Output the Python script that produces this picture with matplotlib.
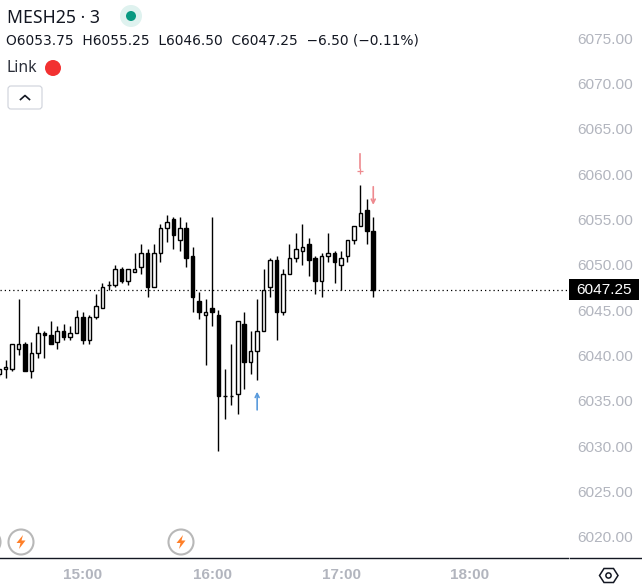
# ==================== #
# === LOAD PACKAGE === #
# ==================== #
import matplotlib
matplotlib.use("Agg")
import matplotlib.pyplot as plt
import numpy as np
from matplotlib.patches import Circle, FancyBboxPatch, Polygon, Rectangle

# ==================== #
# ======= DATA ======= #
# ==================== #
# 3 minute bars, minutes since midnight of the last bar = 17:15
BAR_MINUTES = 3
LAST_BAR = 1035
opens = [6038.0, 6038.5, 6038.5, 6040.75, 6041.25, 6038.25, 6040.25, 6042.5, 6042.25, 6041.5,
         6042.75, 6042.0, 6042.5, 6044.25, 6041.75, 6044.25, 6045.25, 6047.75, 6047.75, 6049.5,
         6048.25, 6049.25, 6049.75, 6051.25, 6047.5, 6051.25, 6054.0, 6055.0, 6052.75, 6054.0,
         6051.0, 6046.0, 6044.5, 6045.25, 6044.5, 6035.5, 6035.5, 6035.75, 6043.5, 6039.25,
         6040.5, 6042.75, 6047.5, 6050.5, 6044.75, 6049.0, 6050.75, 6051.5, 6052.25, 6050.75,
         6048.25, 6051.0, 6051.25, 6050.0, 6051.0, 6052.75, 6054.25, 6056.0, 6053.75]
highs = [6038.5, 6039.5, 6041.25, 6046.25, 6041.5, 6041.5, 6043.25, 6042.75, 6043.75, 6043.25,
         6043.5, 6043.25, 6045.0, 6044.75, 6044.5, 6046.75, 6048.0, 6048.25, 6050.0, 6049.75,
         6049.5, 6051.25, 6052.25, 6051.75, 6052.25, 6054.5, 6055.5, 6055.25, 6055.25, 6054.75,
         6052.0, 6047.0, 6046.25, 6055.25, 6045.0, 6038.5, 6041.25, 6043.75, 6044.75, 6042.75,
         6046.25, 6049.5, 6050.75, 6051.0, 6049.5, 6052.25, 6053.5, 6054.5, 6053.0, 6051.0,
         6051.25, 6053.5, 6051.5, 6051.5, 6052.75, 6054.25, 6058.75, 6057.25, 6055.25]
lows = [6037.75, 6037.5, 6038.25, 6040.0, 6038.25, 6037.5, 6039.75, 6039.75, 6041.25, 6040.75,
        6041.75, 6041.75, 6042.5, 6041.25, 6041.25, 6044.0, 6045.25, 6047.25, 6047.5, 6048.0,
        6047.75, 6049.25, 6049.0, 6046.5, 6047.5, 6050.25, 6052.5, 6051.75, 6051.5, 6049.75,
        6044.75, 6044.0, 6039.0, 6043.25, 6029.5, 6033.0, 6034.5, 6033.5, 6036.25, 6038.0,
        6037.25, 6042.75, 6046.5, 6041.75, 6044.5, 6049.0, 6050.25, 6050.0, 6048.75, 6046.75,
        6046.5, 6050.25, 6048.0, 6047.25, 6050.25, 6052.25, 6054.25, 6052.25, 6046.5]
closes = [6038.5, 6038.75, 6041.25, 6041.25, 6038.25, 6040.25, 6042.5, 6042.25, 6041.25, 6042.75,
          6042.0, 6042.5, 6044.25, 6041.75, 6044.25, 6045.5, 6047.5, 6047.75, 6049.5, 6048.25,
          6049.5, 6049.5, 6051.25, 6047.5, 6051.25, 6054.0, 6054.75, 6053.25, 6054.0, 6050.75,
          6046.5, 6044.75, 6044.75, 6044.75, 6035.5, 6035.5, 6035.5, 6043.75, 6039.25, 6040.5,
          6042.75, 6047.25, 6050.5, 6044.75, 6049.0, 6050.75, 6051.75, 6052.0, 6050.5, 6048.25,
          6051.0, 6051.25, 6050.25, 6050.75, 6052.75, 6054.25, 6055.75, 6053.75, 6047.25]

price_ticks = [6020, 6025, 6030, 6035, 6040, 6045, 6050, 6055, 6060, 6065, 6070, 6075]
time_ticks = [900, 960, 1020, 1080]
time_labels = ["15:00", "16:00", "17:00", "18:00"]
last_price = 6047.25

# signal arrows: minute, start price, end price
blue_arrow = [981, 6034.0, 6036.0]
red_arrow = [1035, 6058.6, 6056.6]
red_warning = [1029, 6062.2, 6060.1]
lightning_px = [-12, 21, 181]

# ==================== #
# ==== PARAMETERS ==== #
# ==================== #
W, H = 642, 586
AXIS_X, AXIS_Y = 569, 558
PX_PER_MIN = 2.15
PX_PER_PRICE = 1 / 0.11025
TEXT_COL = "#131722"
SCALE_COL = "#b2b5be"
FONT = "Noto Sans"
PRICE_FONT = "Liberation Sans"

plt.rcParams["font.family"] = FONT
fig = plt.figure(figsize=(W / 100, H / 100), dpi=100)

# ==================== #
# ====== CANDLES ===== #
# ==================== #
ax = fig.add_axes([0, 1 - AXIS_Y / H, AXIS_X / W, AXIS_Y / H])
ax.set_xlim(900 - 83 / PX_PER_MIN, 900 + (AXIS_X - 83) / PX_PER_MIN)
ax.set_ylim(6075 - (AXIS_Y - 38) / PX_PER_PRICE, 6075 + 38 / PX_PER_PRICE)

minutes = LAST_BAR - BAR_MINUTES * np.arange(len(opens))[::-1]
o, h, l, c = map(np.array, (opens, highs, lows, closes))
ax.vlines(minutes, l, h, color="black", lw=1.0, zorder=2)
up = c >= o
body_low = np.minimum(o, c)
body_size = np.abs(c - o)
ax.bar(minutes[up], body_size[up], bottom=body_low[up], width=1.65, color="white",
       edgecolor="black", lw=1.0, zorder=3)
ax.bar(minutes[~up], body_size[~up], bottom=body_low[~up], width=1.65, color="black",
       edgecolor="black", lw=1.0, zorder=3)

ax.axhline(last_price, color="black", lw=0.9, ls=(0, (1, 2.4)), zorder=1)

# signals
ax.annotate("", xy=(blue_arrow[0], blue_arrow[2]), xytext=(blue_arrow[0], blue_arrow[1]),
            arrowprops=dict(arrowstyle="->", color="#5a9bdc", lw=1.2, mutation_scale=7, shrinkA=0, shrinkB=0))
ax.annotate("", xy=(red_arrow[0], red_arrow[2]), xytext=(red_arrow[0], red_arrow[1]),
            arrowprops=dict(arrowstyle="->", color="#ee8a8f", lw=1.2, mutation_scale=7, shrinkA=0, shrinkB=0))
ax.plot([red_warning[0]] * 2, [red_warning[1], red_warning[2] + 0.55], color="#ee8a8f", lw=1.2)
ax.plot([red_warning[0]], [red_warning[2] + 0.2], marker="+", ms=5, mew=0.9, color="#ee8a8f")

# axes
for side in ax.spines:
    ax.spines[side].set_visible(False)
ax.yaxis.tick_right()
ax.set_yticks(price_ticks)
ax.set_yticklabels([f"{p:.2f}" for p in price_ticks], fontfamily=PRICE_FONT, fontsize=11.1, color=SCALE_COL)
ax.set_xticks(time_ticks)
ax.set_xticklabels(time_labels, fontfamily=PRICE_FONT, fontsize=11, fontweight="bold", color=SCALE_COL)
ax.tick_params(axis="y", length=0, pad=6.3)
ax.tick_params(axis="x", length=0, pad=7)

# ==================== #
# ===== OVERLAY UI === #
# ==================== #
ov = fig.add_axes([0, 0, 1, 1], facecolor="none")
ov.set_xlim(0, W)
ov.set_ylim(H, 0)
ov.axis("off")

ov.plot([0, 568], [AXIS_Y, AXIS_Y], color=TEXT_COL, lw=1.0)
ov.plot([570, W], [AXIS_Y, AXIS_Y], color=TEXT_COL, lw=1.0)

# last price tag
ov.add_patch(Rectangle((569, 279), 70, 21, color="black", lw=0))
ov.text(604, 290, f"{last_price:.2f}", color="white", ha="center", va="center",
        fontfamily=PRICE_FONT, fontsize=11.1)

# header
ov.text(7, 18, "MESH25 · 3", color=TEXT_COL, fontsize=12.7, ha="left", va="center")
ov.add_patch(Circle((131, 16), 11, color="#dff2ef", lw=0))
ov.add_patch(Circle((131, 16), 5, color="#089981", lw=0))
ov.text(6, 41, "O6053.75  H6055.25  L6046.50  C6047.25  −6.50 (−0.11%)", color=TEXT_COL,
        fontfamily="DejaVu Sans", fontsize=9.88, ha="left", va="center")
ov.text(7, 68, "Link", color="#2a2e39", fontsize=11.3, ha="left", va="center")
ov.add_patch(Circle((53, 68), 8, color="#f23131", lw=0))
ov.add_patch(FancyBboxPatch((8, 86), 34, 23, boxstyle="round,pad=0,rounding_size=3",
                            fc="white", ec="#d1d4dc", lw=0.85))
ov.plot([20.5, 25, 29.5], [99.5, 95.5, 99.5], color=TEXT_COL, lw=1.2)

# lightning icons
for x0 in lightning_px:
    ov.add_patch(Circle((x0, 542), 12.5, fc="white", ec="#b8b8b8", lw=1.5))
    bolt = np.array([[2, -7], [-4.5, 1], [-0.5, 1], [-2, 7], [4.5, -1.5], [0.5, -1.5]])
    ov.add_patch(Polygon(bolt + [x0, 542], closed=True, color="#ff7f27", lw=0))

# settings icon
hexagon = np.array([[599.5, 575.5], [604, 568.5], [613.5, 568.5], [618, 575.5], [613.5, 582.5], [604, 582.5]])
ov.add_patch(Polygon(hexagon, closed=True, fc="none", ec=TEXT_COL, lw=1.1))
ov.add_patch(Circle((608.5, 575.5), 2.6, fc="none", ec=TEXT_COL, lw=1.1))

fig.savefig("out.png", dpi=100)
print("Done")
